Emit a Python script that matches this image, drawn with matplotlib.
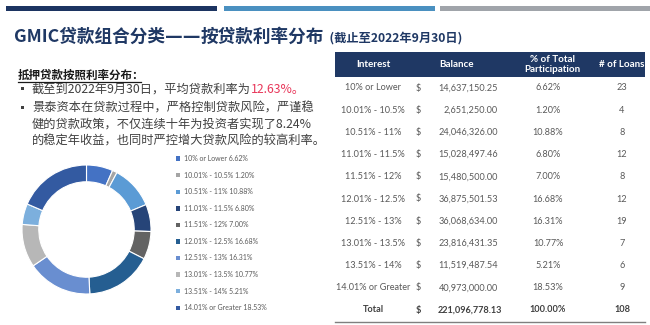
import matplotlib
matplotlib.use("Agg")
import matplotlib.pyplot as plt
from matplotlib.patches import Rectangle, Patch

plt.rcParams['font.family'] = ['Noto Sans CJK SC', 'DejaVu Sans']

# ---------------- data ----------------
categories = ["10% or Lower", "10.01% - 10.5%", "10.51% - 11%", "11.01% - 11.5%",
              "11.51% - 12%", "12.01% - 12.5%", "12.51% - 13%", "13.01% - 13.5%",
              "13.51% - 14%", "14.01% or Greater"]
balances = ["14,637,150.25", "2,651,250.00", "24,046,326.00", "15,028,497.46",
            "15,480,500.00", "36,875,501.53", "36,068,634.00", "23,816,431.35",
            "11,519,487.54", "40,973,000.00"]
percents = [6.62, 1.20, 10.88, 6.80, 7.00, 16.68, 16.31, 10.77, 5.21, 18.53]
loans = [23, 4, 8, 12, 8, 12, 19, 7, 6, 9]
total_balance = "221,096,778.13"
total_pct = "100.00%"
total_loans = 108
headers = ["Interest", "Balance", "% of Total\nParticipation", "# of Loans"]

title_parts = ["GMIC贷款组合分类", "——", "按贷款利率分布"]
subtitle = "(截止至2022年9月30日)"
section = "抵押贷款按照利率分布："
bullet1a = "截至到2022年9月30日，平均贷款利率为"
bullet1b = "12.63%。"
bullet2 = ["景泰资本在贷款过程中，严格控制贷款风险，严谨稳",
           "健的贷款政策，不仅连续十年为投资者实现了8.24%",
           "的稳定年收益，也同时严控增大贷款风险的较高利率。"]

slice_colors = ["#4472C4", "#A5A5A5", "#5B9BD5", "#264478", "#636363",
                "#255E91", "#698ED0", "#B7B7B7", "#7CAFDD", "#335AA1"]

NAVY = "#1F3864"
TXT = "#595959"

W, H = 650, 325
fig = plt.figure(figsize=(6.5, 3.25), dpi=100)
fig.patch.set_facecolor("white")

# overlay axes in pixel coordinates (y downward)
ov = fig.add_axes([0, 0, 1, 1])
ov.set_xlim(0, W)
ov.set_ylim(H, 0)
ov.axis("off")
fig.canvas.draw()
r = fig.canvas.get_renderer()


def text_after(prev, y, s, **kw):
    """place text s right after the text artist prev (pixel coords)."""
    bb = prev.get_window_extent(r)
    return ov.text(bb.x1, y, s, **kw)


# top decorative bars
bar_cols = ["#1C3461", "#4A90C0", "#A0A4AA"]
bar_x = [6, 224, 440]
for c, x in zip(bar_cols, bar_x):
    ov.add_patch(Rectangle((x, 6), 211, 5, color=c, lw=0))

# title (three pieces so the long dash joins into one line)
tkw = dict(fontsize=12.7, fontweight="bold", color=NAVY, va="baseline", ha="left")
ty = 42
tA = ov.text(14, ty, title_parts[0], **tkw)
tB = text_after(tA, ty, title_parts[1], family=["DejaVu Sans"], **tkw)
tC = text_after(tB, ty, title_parts[2], **tkw)
sub = text_after(tC, ty, "  " + subtitle, fontsize=8.8, fontweight="bold", color=NAVY,
                 va="baseline", ha="left")

# section header
ov.text(18, 75, section, fontsize=8.3, fontweight="bold", color="#1a1a1a", va="center", ha="left")
ov.plot([18, 141], [81.5, 81.5], color="#1a1a1a", lw=0.9)

# bullets
fs_b = 8.8
ov.add_patch(Rectangle((21, 87), 3.2, 3.2, color="#404040", lw=0))
ov.add_patch(Rectangle((21, 106), 3.2, 3.2, color="#404040", lw=0))
t1 = ov.text(32, 89, bullet1a, fontsize=fs_b, color="#404040", va="center", ha="left")
text_after(t1, 89, bullet1b, fontsize=fs_b, color="#E8375A", va="center", ha="left")
for i, line in enumerate(bullet2):
    ov.text(32, 108 + i * 16.5, line, fontsize=fs_b, color="#404040", va="center", ha="left")

# donut
cx, cy, rad = 86.5, 229.5, 64.5
dax = fig.add_axes([(cx - rad) / W, 1 - (cy + rad) / H, 2 * rad / W, 2 * rad / H])
wedges, _ = dax.pie(percents, colors=slice_colors, startangle=90, counterclock=False,
                    wedgeprops=dict(width=0.26, edgecolor="white", linewidth=0.8),
                    radius=1.0)
dax.set_aspect("equal")
dax.set_xlim(-1, 1)
dax.set_ylim(-1, 1)

# legend
handles = [Patch(facecolor=c, edgecolor="none") for c in slice_colors]
labels = [f"{c} {p:.2f}%" for c, p in zip(categories, percents)]
fig.legend(handles, labels, loc="upper left", bbox_to_anchor=(176 / W, 1 - 155 / H),
           frameon=False, prop=dict(family="Lato", size=5), labelcolor=TXT,
           handlelength=0.6, handleheight=0.6, handletextpad=0.5, labelspacing=1.38,
           borderaxespad=0, borderpad=0)

# table
ov.add_patch(Rectangle((335, 52), 310, 25, color=NAVY, lw=0))
hx = [373, 457, 552, 622]
for x, h in zip(hx, headers):
    ov.text(x, 64.5, h, fontsize=7.1, fontweight="bold", color="white", ha="center",
            va="center", family="Lato", linespacing=1.0)

y0, dy = 88, 22.2
fs_t = 6.6
for i in range(len(categories)):
    y = y0 + i * dy
    ov.text(373, y, categories[i], fontsize=fs_t, color=TXT, ha="center", va="center", family="Lato")
    ov.text(418, y, "$", fontsize=fs_t, color=TXT, ha="center", va="center", family="Lato")
    ov.text(498, y, balances[i], fontsize=fs_t, color=TXT, ha="right", va="center", family="Lato")
    ov.text(548, y, f"{percents[i]:.2f}%", fontsize=fs_t, color=TXT, ha="center", va="center", family="Lato")
    ov.text(622, y, str(loans[i]), fontsize=fs_t, color=TXT, ha="center", va="center", family="Lato")
yt = y0 + len(categories) * dy
bkw = dict(fontsize=fs_t, color="#404040", va="center", family="Lato", fontweight="bold")
ov.text(373, yt, "Total", ha="center", **bkw)
ov.text(418, yt, "$", ha="center", **bkw)
ov.text(502, yt, total_balance, ha="right", **bkw)
ov.text(548, yt, total_pct, ha="center", **bkw)
ov.text(622, yt, str(total_loans), ha="center", **bkw)
ov.plot([335, 645], [322, 322], color="#7f7f7f", lw=1)

fig.savefig("out.png", dpi=100, facecolor="white")
